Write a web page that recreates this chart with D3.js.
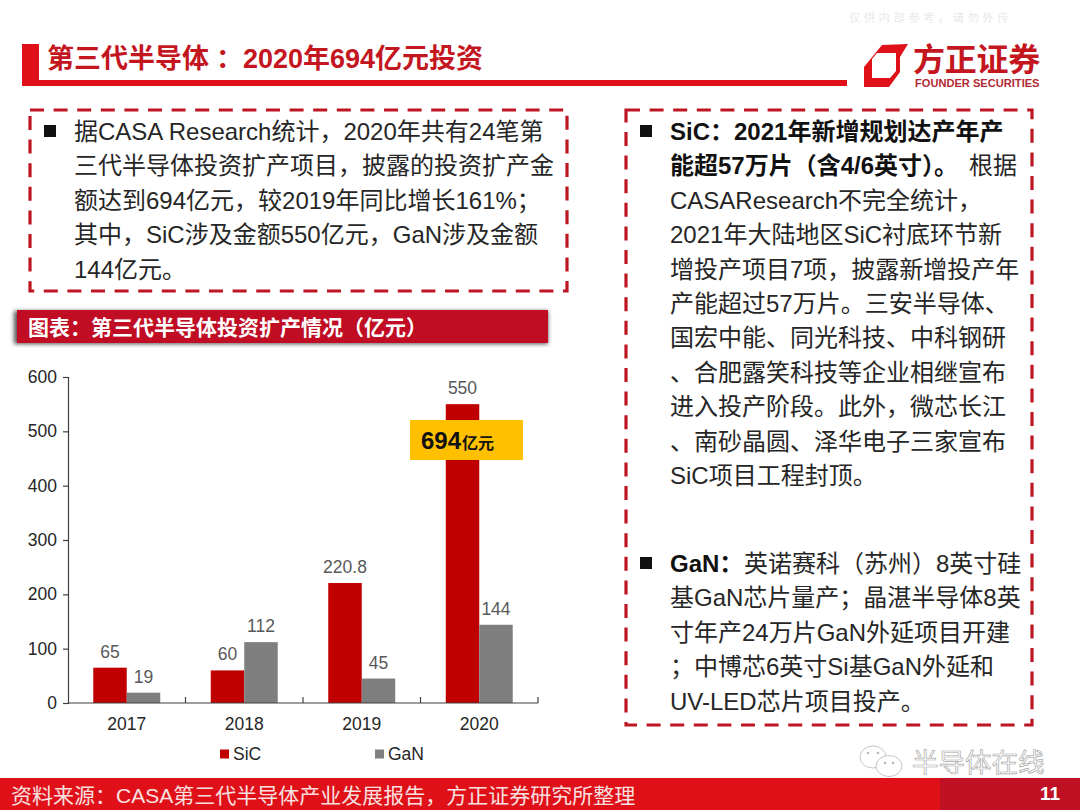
<!DOCTYPE html>
<html><head><meta charset="utf-8">
<script src="https://cdn.jsdelivr.net/npm/d3@7/dist/d3.min.js"></script>
<style>
html,body{margin:0;padding:0;background:#fff;overflow:hidden}
svg{display:block}
text{font-family:"Liberation Sans","Noto Sans CJK SC",sans-serif}
</style></head><body>
<svg id="c" width="1080" height="810" viewBox="0 0 1080 810"></svg>
<script>
const years=["2017","2018","2019","2020"];
const sicValues=[65,60,220.8,550];
const ganValues=[19,112,45,144];
const yTicks=[0,100,200,300,400,500,600];
const seriesNames=["SiC","GaN"];
const leftLines=["据CASA Research统计，2020年共有24笔第","三代半导体投资扩产项目，披露的投资扩产金","额达到694亿元，较2019年同比增长161%；","其中，SiC涉及金额550亿元，GaN涉及金额","144亿元。"];
const sicBold=["SiC：2021年新增规划达产年产","能超57万片（含4/6英寸）。"];
const sicTail="根据";
const sicLines=["CASAResearch不完全统计，","2021年大陆地区SiC衬底环节新","增投产项目7项，披露新增投产年","产能超过57万片。三安半导体、","国宏中能、同光科技、中科钢研","、合肥露笑科技等企业相继宣布","进入投产阶段。此外，微芯长江","、南砂晶圆、泽华电子三家宣布","SiC项目工程封顶。"];
const ganLines=["英诺赛科（苏州）8英寸硅","基GaN芯片量产；晶湛半导体8英","寸年产24万片GaN外延项目开建","；中博芯6英寸Si基GaN外延和","UV-LED芯片项目投产。"];

const svg=d3.select("#c");
const RED="#c00000",BRIGHT="#e01018",DARK="#c00d23",GREY="#7f7f7f";
const defs=svg.append("defs");
defs.append("filter").attr("id","blur").append("feGaussianBlur").attr("stdDeviation",2);
const t=(x,y,s,size,fill,opt={})=>svg.append("text").attr("x",x).attr("y",y).text(s)
  .attr("font-size",size).attr("fill",fill).attr("font-weight",opt.w||"normal")
  .attr("text-anchor",opt.a||"start").attr("letter-spacing",opt.ls||null);

// header
svg.append("rect").attr("x",22).attr("y",44).attr("width",17).attr("height",36).attr("fill",BRIGHT);
t(47,68,"第三代半导体",27,"#c4161f",{w:"bold"});
t(216,68,"：",27,"#c4161f",{w:"bold"});
t(243,68,"2020年694亿元投资",27,"#c4161f",{w:"bold"});
svg.append("rect").attr("x",22).attr("y",80).attr("width",825).attr("height",6).attr("fill",BRIGHT);
t(849,22,"仅供内部参考，请勿外传",11.5,"#e9e9e9",{ls:"3.3"});

// logo
svg.append("path").attr("fill",BRIGHT).attr("fill-rule","evenodd")
 .attr("d","M882,45 L908,44 L900,57 L900,72 L889,87 L864,87 L864,67 Z M877,53 L896,53 L896,71 L890,78 L872,78 L872,59 Z");
t(913,71,"方正证券",32,"#c4161f",{w:"bold",ls:"-0.25"});
t(915,87,"FOUNDER SECURITIES",11.1,"#b22a35",{w:"bold"});

// dashed boxes
const dash=(x,y,w,h)=>svg.append("rect").attr("x",x).attr("y",y).attr("width",w).attr("height",h)
  .attr("fill","none").attr("stroke","#bd1622").attr("stroke-width",3.2).attr("stroke-dasharray","14 9.6");
dash(30,110,537,181);
dash(626,110,406,615);

// bullets
const bullet=(x,y)=>svg.append("rect").attr("x",x).attr("y",y).attr("width",12).attr("height",12).attr("fill","#111");
bullet(44,125);
leftLines.forEach((s,i)=>t(74,140+i*34.4,s,24,"#262626"));
bullet(640,125);
sicBold.forEach((s,i)=>t(670,140+i*34.4,s,24,"#111",{w:"bold"}));
t(969,174.4,sicTail,24,"#262626");
sicLines.forEach((s,i)=>t(670,208.8+i*34.4,s,24,"#262626"));
bullet(640,557);
t(670,572,"GaN：",24,"#111",{w:"bold"});
ganLines.forEach((s,i)=>t(i==0?744:670,572+i*34.4,s,24,"#262626"));

// chart title band
svg.append("rect").attr("x",14).attr("y",311).attr("width",534).attr("height",33).attr("fill","#555").attr("filter","url(#blur)");
svg.append("rect").attr("x",17).attr("y",310).attr("width",531).attr("height",33).attr("fill",DARK);
t(28,335,"图表：第三代半导体投资扩产情况（亿元）",21,"#fff",{w:"bold"});

// chart
const x=d3.scaleBand().domain(years).range([68,538]).paddingInner(.43).paddingOuter(.215);
const xs=d3.scaleBand().domain(seriesNames).range([0,x.bandwidth()]);
const y=d3.scaleLinear().domain([0,600]).range([703,377]);
const colors=d3.scaleOrdinal().domain(seriesNames).range([RED,GREY]);
const data=[sicValues,ganValues];
seriesNames.forEach((n,k)=>{
  const g=svg.append("g");
  g.selectAll("rect").data(years).join("rect")
   .attr("x",d=>x(d)+xs(n)).attr("width",xs.bandwidth())
   .attr("y",(d,i)=>y(data[k][i])).attr("height",(d,i)=>y(0)-y(data[k][i])).attr("fill",colors(n));
  g.selectAll("text").data(years).join("text")
   .attr("x",d=>x(d)+xs(n)+xs.bandwidth()/2)
   .attr("y",(d,i)=>y(data[k][i])-10).attr("text-anchor","middle")
   .attr("font-size",17.5).attr("fill","#595959").text((d,i)=>data[k][i]);
});
const yAxis=svg.append("g").attr("transform","translate(68,0)")
  .call(d3.axisLeft(y).tickValues(yTicks).tickSize(5).tickPadding(6));
const xEdge=d3.scalePoint().domain(d3.range(5)).range([68,538]);
const xAxis=svg.append("g").attr("transform","translate(0,703)");
xAxis.append("line").attr("x1",68).attr("x2",538).attr("stroke","#404040").attr("stroke-width",1.2);
xAxis.selectAll("line.t").data(d3.range(1,5)).join("line").attr("class","t")
  .attr("x1",d=>xEdge(d)).attr("x2",d=>xEdge(d)).attr("y1",0).attr("y2",-6)
  .attr("stroke","#404040").attr("stroke-width",1.2);
xAxis.selectAll("text").data(years).join("text")
  .attr("x",d=>x(d)+x.bandwidth()/2).attr("y",27).attr("text-anchor","middle")
  .attr("font-size",17.5).attr("fill","#262626").text(d=>d);
yAxis.select(".domain").attr("stroke","#404040").attr("stroke-width",1.2);
yAxis.selectAll(".tick line").attr("stroke","#404040").attr("stroke-width",1.2);
yAxis.selectAll(".tick text").attr("font-size",17.5).attr("fill","#262626").style("font-family",'"Liberation Sans"');

// callout
svg.append("rect").attr("x",410).attr("y",420).attr("width",113).attr("height",40).attr("fill","#ffc000");
t(421,449,"694",24,"#111",{w:"bold"});
t(462,449,"亿元",16,"#111",{w:"bold"});

// legend
const lx=d3.scaleOrdinal().domain(seriesNames).range([220,375]);
const lg=svg.append("g").selectAll("g").data(seriesNames).join("g").attr("transform",d=>`translate(${lx(d)},754)`);
lg.append("rect").attr("y",-4.5).attr("width",9).attr("height",9).attr("fill",d=>colors(d));
lg.append("text").attr("x",13).attr("y",6).attr("font-size",17.5).attr("fill","#262626").text(d=>d);

// watermark
const wm=svg.append("g").attr("fill","#fff").attr("stroke","#b8b8b8").attr("stroke-width",.8);
wm.append("ellipse").attr("cx",873).attr("cy",757).attr("rx",13).attr("ry",11);
wm.append("ellipse").attr("cx",889).attr("cy",766).attr("rx",13).attr("ry",10.5);
wm.selectAll("circle").data([[868,753],[878,753],[885,763],[893,763]]).join("circle")
  .attr("cx",d=>d[0]).attr("cy",d=>d[1]).attr("r",1.3).attr("fill","#b8b8b8").attr("stroke","none");
svg.append("text").attr("x",912).attr("y",772).text("半导体在线").attr("font-size",26.5)
  .attr("fill","#fff").attr("stroke","#a9a9a9").attr("stroke-width",.7);

// footer
svg.append("rect").attr("x",0).attr("y",778).attr("width",1080).attr("height",32).attr("fill",BRIGHT);
svg.append("rect").attr("x",940).attr("y",778).attr("width",140).attr("height",32).attr("fill","#c01024");
t(11,803,"资料来源：CASA第三代半导体产业发展报告，方正证券研究所整理",21,"#f8e0e0");
t(1040,800,"11",19,"#fff",{w:"bold"});
</script></body></html>
